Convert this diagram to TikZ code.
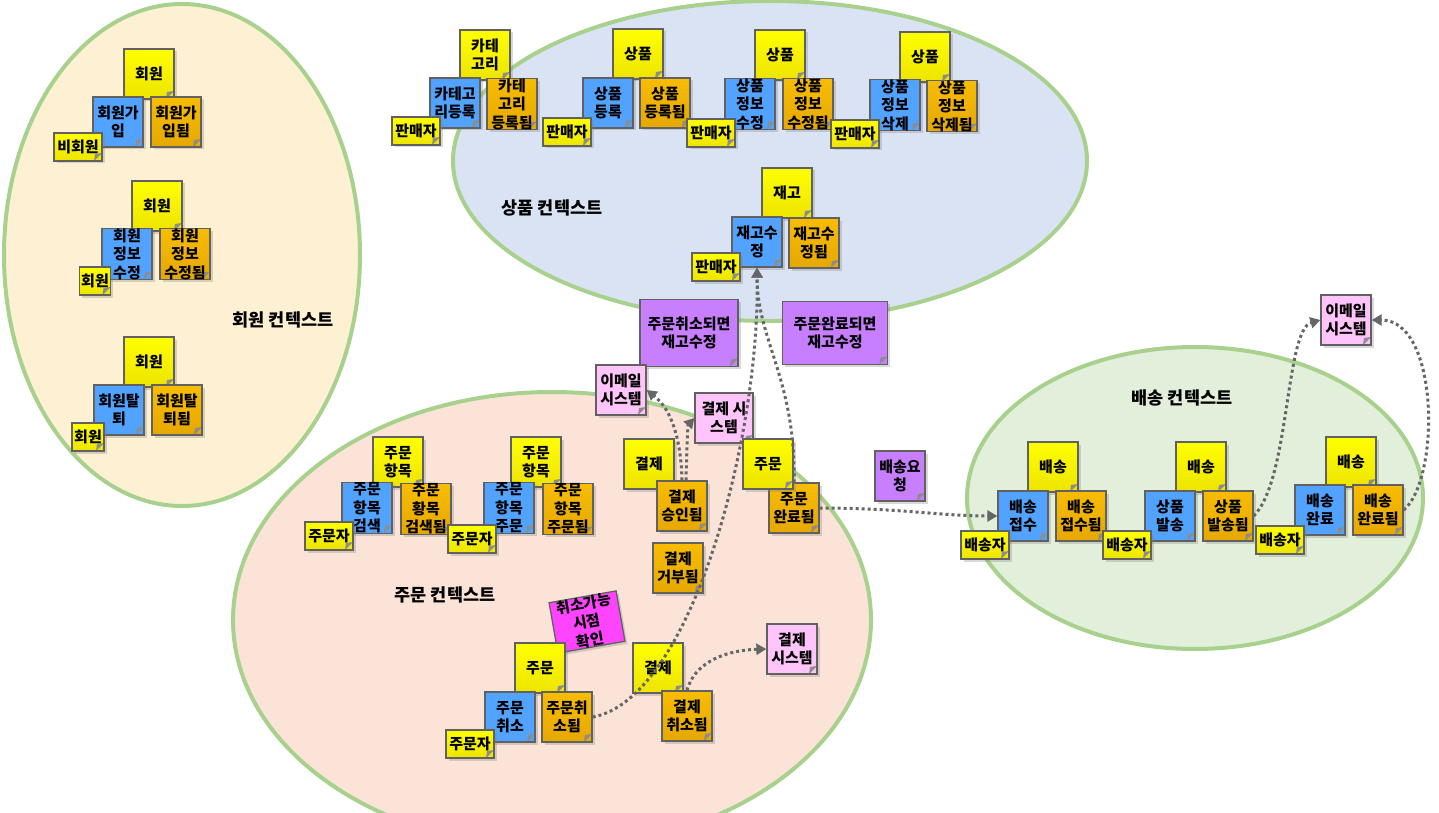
\documentclass[tikz,border=0pt]{standalone}
\usepackage{fontspec}
\usepackage{tikz}
\usetikzlibrary{arrows.meta,shadows}
\newfontfamily\kr{Noto Sans CJK KR}
\newcommand\notefont{\kr\bfseries\fontsize{15}{18.5}\selectfont}
\definecolor{ctxline}{HTML}{A9D18E}
\definecolor{memberbg}{HTML}{FEF1D3}
\definecolor{productbg}{HTML}{DAE3F3}
\definecolor{orderbg}{HTML}{FBE4D7}
\definecolor{deliverybg}{HTML}{E2EFDA}
\definecolor{aggtop}{HTML}{FFFF00}
\definecolor{aggbot}{HTML}{EDE400}
\definecolor{cmdfill}{HTML}{52A3FF}
\definecolor{evttop}{HTML}{F8BC00}
\definecolor{evtbot}{HTML}{E6A800}
\definecolor{polfill}{HTML}{C77EFF}
\definecolor{extfill}{HTML}{FFC4FA}
\definecolor{hotfill}{HTML}{FF44FF}
\tikzset{
  note/.style={draw=black!62, line width=1.3pt, inner sep=0pt, align=center,
               minimum width=50pt, minimum height=50pt, font=\notefont,
               drop shadow={shadow xshift=2.5pt, shadow yshift=-2.5pt, opacity=0.3},
               path picture={\fill[black!45]
                 ([xshift=-8pt]path picture bounding box.south east)
                 -- ([yshift=8pt]path picture bounding box.south east)
                 -- ([xshift=-7pt,yshift=7pt]path picture bounding box.south east) -- cycle;}},
  agg/.style={note, top color=aggtop, bottom color=aggbot},          % aggregate
  cmd/.style={note, fill=cmdfill},                                    % command
  evt/.style={note, top color=evttop, bottom color=evtbot},          % domain event
  act/.style={agg, minimum width=48pt, minimum height=28pt},         % actor
  pol/.style={note, fill=polfill},                                    % policy
  ext/.style={note, fill=extfill},                                    % external system
  hot/.style={note, fill=hotfill},                                    % hot spot
  ctx/.style={draw=ctxline, line width=4pt},
  ctxlabel/.style={font=\kr\bfseries\fontsize{17.5}{20}\selectfont},
  dep/.style={draw=black!60, line width=3pt, dash pattern=on 3pt off 3pt,
              -{Triangle[length=10pt,width=11pt]}},
}
\begin{document}
\begin{tikzpicture}[x=1pt, y=-1pt]
  \clip (0,0) rectangle (1439,813);
  \draw[ctx, fill=memberbg]   (182,255)  ellipse [x radius=178pt, y radius=251pt];
  \draw[ctx, fill=productbg]  (770,161)  ellipse [x radius=317pt, y radius=160pt];
  \draw[ctx, fill=orderbg]    (552,620)  ellipse [x radius=319pt, y radius=228pt];
  \draw[ctx, fill=deliverybg] (1195,498) ellipse [x radius=228pt, y radius=151pt];

  % member
  \node[agg] (m1a) at (149,74)  {회원};
  \node[cmd] (m1c) at (118,122) {회원가\\입};
  \node[evt] (m1e) at (176,122) {회원가\\입됨};
  \node[act] (m1u) at (78,147)  {비회원};
  \node[agg] (m2a) at (157,206) {회원};
  \node[cmd] (m2c) at (127,254) {회원\\정보\\수정};
  \node[evt] (m2e) at (185,254) {회원\\정보\\수정됨};
  \node[act, minimum width=31pt] (m2u) at (95,281) {회원};
  \node[agg] (m3a) at (149,362) {회원};
  \node[cmd] (m3c) at (119,410) {회원탈\\퇴};
  \node[evt] (m3e) at (177,410) {회원탈\\퇴됨};
  \node[act, minimum width=32pt] (m3u) at (88,437) {회원};
  \node[ctxlabel] (mlab) at (283,320) {회원 컨텍스트};

  % product
  \node[agg] (p1a) at (485,55)  {카테\\고리};
  \node[cmd] (p1c) at (455,103) {카테고\\리등록};
  \node[evt] (p1e) at (512,104) {카테\\고리\\등록됨};
  \node[act] (p1u) at (416,131) {판매자};
  \node[agg] (p2a) at (638,54)  {상품};
  \node[cmd] (p2c) at (608,103) {상품\\등록};
  \node[evt] (p2e) at (665,103) {상품\\등록됨};
  \node[act] (p2u) at (567,132) {판매자};
  \node[agg] (p3a) at (780,55)  {상품};
  \node[cmd] (p3c) at (750,104) {상품\\정보\\수정};
  \node[evt] (p3e) at (808,104) {상품\\정보\\수정됨};
  \node[act] (p3u) at (711,133) {판매자};
  \node[agg] (p4a) at (925,57)  {상품};
  \node[cmd] (p4c) at (895,105) {상품\\정보\\삭제};
  \node[evt] (p4e) at (952,106) {상품\\정보\\삭제됨};
  \node[act] (p4u) at (855,134) {판매자};
  \node[agg] (p5a) at (787,193) {재고};
  \node[cmd] (p5c) at (757,242) {재고수\\정};
  \node[evt] (p5e) at (814,243) {재고수\\정됨};
  \node[act] (p5u) at (716,267) {판매자};
  \node[ctxlabel] (plab) at (552,208) {상품 컨텍스트};

  \node[pol, minimum width=98pt, minimum height=67pt]  (q1) at (689,333) {주문취소되면\\재고수정};
  \node[pol, minimum width=105pt, minimum height=63pt] (q2) at (835,333) {주문완료되면\\재고수정};
  \node[pol] (q3) at (900,476) {배송요\\청};
  \node[ext] (x1) at (621,390) {이메일\\시스템};
  \node[ext, minimum width=58pt] (x2) at (724,418) {결제 시\\스템};

  % order
  \node[agg] (o1a) at (398,462) {주문\\항목};
  \node[cmd] (o1c) at (367,508) {주문\\항목\\검색};
  \node[evt] (o1e) at (426,509) {주문\\황목\\검색됨};
  \node[act] (o1u) at (329,536) {주문자};
  \node[agg] (o2a) at (536,462) {주문\\항목};
  \node[cmd] (o2c) at (509,508) {주문\\항목\\주문};
  \node[evt] (o2e) at (568,509) {주문\\항목\\주문됨};
  \node[act] (o2u) at (472,539) {주문자};
  \node[agg] (o3a) at (649,464) {결제};
  \node[evt] (o3e) at (682,506) {결제\\승인됨};
  \node[evt] (o4e) at (678,568) {결제\\거부됨};
  \node[evt] (o5e) at (794,508) {주문\\완료됨};
  \node[agg] (o5a) at (768,464) {주문};
  \node[hot, rotate=10, minimum width=68pt, minimum height=50pt] (o6h) at (587,622) {취소가능\\시점\\확인};
  \node[agg] (o6a) at (540,668) {주문};
  \node[cmd] (o6c) at (510,717) {주문\\취소};
  \node[evt] (o6e) at (567,717) {주문취\\소됨};
  \node[act] (o6u) at (470,744) {주문자};
  \node[agg] (o7a) at (658,668) {결제};
  \node[evt] (o7e) at (687,716) {결제\\취소됨};
  \node[ext] (x3) at (792,649) {결제\\시스템};
  \node[ctxlabel] (olab) at (445,595) {주문 컨텍스트};

  % delivery
  \node[ext] (x4) at (1346,320) {이메일\\시스템};
  \node[agg] (d1a) at (1053,467) {배송};
  \node[cmd] (d1c) at (1023,516) {배송\\접수};
  \node[evt] (d1e) at (1081,516) {배송\\접수됨};
  \node[act] (d1u) at (985,545)  {배송자};
  \node[agg] (d2a) at (1201,467) {배송};
  \node[cmd] (d2c) at (1170,516) {상품\\발송};
  \node[evt] (d2e) at (1228,516) {상품\\발송됨};
  \node[act] (d2u) at (1127,545) {배송자};
  \node[agg] (d3a) at (1351,462) {배송};
  \node[cmd] (d3c) at (1320,510) {배송\\완료};
  \node[evt] (d3e) at (1378,510) {배송\\완료됨};
  \node[act] (d3u) at (1280,540) {배송자};
  \node[ctxlabel] (dlab) at (1182,398) {배송 컨텍스트};

  \draw[dep] (o6e.east) .. controls (690,700) and (760,440) .. (p5c.south);
  \draw[dep] (o5e.north) .. controls (796,380) and (757,340) .. (p5c.south);
  \draw[dep] (o7e.north) .. controls (695,660) and (730,650) .. (x3.west);
  \draw[dep] (o3e.north) .. controls (681,440) and (672,410) .. (x1.east);
  \draw[dep] ([xshift=4pt]o3e.north) .. controls (687,440) and (688,425) .. (x2.west);
  \draw[dep] (o5e.east) .. controls (900,508) and (940,516) .. (d1c.west);
  \draw[dep] (d2e.east) .. controls (1290,480) and (1285,330) .. (x4.west);
  \draw[dep] (d3e.east) .. controls (1440,480) and (1440,320) .. (x4.east);
\end{tikzpicture}
\end{document}
